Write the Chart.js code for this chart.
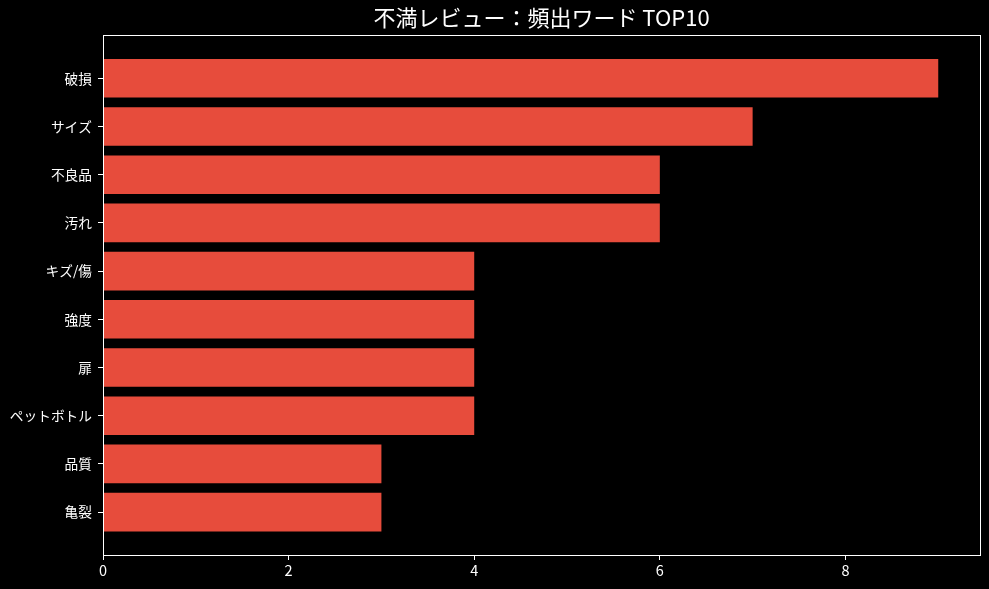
<!DOCTYPE html>
<html>
<head>
<meta charset="utf-8">
<script src="https://cdn.jsdelivr.net/npm/chart.js@4"></script>
<style>
  html, body { margin: 0; padding: 0; background: #000; }
  #wrap { width: 989px; height: 589px; }
</style>
</head>
<body>
<div id="wrap"><canvas id="chart"></canvas></div>
<script>
const categories = ["破損", "サイズ", "不良品", "汚れ", "キズ/傷", "強度", "扉", "ペットボトル", "品質", "亀裂"];
const counts = [9, 7, 6, 6, 4, 4, 4, 4, 3, 3];
const xTicks = [0, 2, 4, 6, 8];

const font = "'Noto Sans CJK JP', 'DejaVu Sans', sans-serif";

// matplotlib 風の四辺の枠
const frame = {
  id: "frame",
  afterDraw(chart) {
    const { ctx, chartArea: a } = chart;
    ctx.save();
    ctx.strokeStyle = "#fff";
    ctx.lineWidth = 1;
    ctx.strokeRect(Math.round(a.left) + 0.5, Math.round(a.top) + 0.5,
      Math.round(a.right - a.left), Math.round(a.bottom - a.top));
    ctx.restore();
  }
};

new Chart(document.getElementById("chart").getContext("2d"), {
  type: "bar",
  data: {
    datasets: [{
      data: counts.map((v, i) => ({ x: v, y: i })),
      backgroundColor: "#e74c3c",
      barPercentage: 0.8,
      categoryPercentage: 1
    }]
  },
  options: {
    indexAxis: "y",
    responsive: true,
    maintainAspectRatio: false,
    animation: false,
    layout: { padding: { right: 9 } },
    plugins: {
      legend: { display: false },
      tooltip: { enabled: false },
      title: {
        display: true,
        text: "不満レビュー：頻出ワード TOP10",
        color: "#fff",
        fullSize: false,
        font: { family: font, size: 22, weight: "normal" },
        padding: { top: 4, bottom: 5 }
      }
    },
    scales: {
      x: {
        type: "linear",
        min: 0,
        max: 9.45,
        afterBuildTicks: (s) => { s.ticks = xTicks.map(v => ({ value: v })); },
        afterFit: (s) => { s.height = 34; },
        ticks: { color: "#fff", font: { family: font, size: 14.5 }, padding: 2, maxRotation: 0 },
        grid: { drawOnChartArea: false, color: "#fff", tickLength: 5 },
        border: { color: "#fff" }
      },
      y: {
        type: "linear",
        offset: false,
        reverse: true,
        min: -0.89,
        max: 9.89,
        afterBuildTicks: (s) => { s.ticks = categories.map((c, i) => ({ value: i })); },
        afterFit: (s) => { s.width = 103; },
        ticks: {
          color: "#fff",
          font: { family: font, size: 13.7 },
          padding: 6,
          callback: (v) => categories[v]
        },
        grid: { offset: false, drawOnChartArea: false, color: "#fff", tickLength: 5 },
        border: { color: "#fff" }
      }
    }
  },
  plugins: [frame]
});
</script>
</body>
</html>
